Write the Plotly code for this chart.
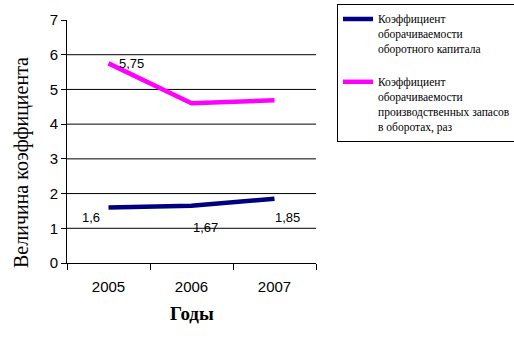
import plotly.graph_objects as go

years = ["2005", "2006", "2007"]
working_capital = [1.6, 1.65, 1.85]
inventory = [5.75, 4.6, 4.69]
wc_labels = ["1,6", "1,67", "1,85"]
inv_labels = ["5,75", "", ""]
name_wc = "Коэффициент<br>оборачиваемости<br>оборотного капитала<br> "
name_inv = "Коэффициент<br>оборачиваемости<br>производственных запасов<br>в оборотах, раз"
x_title = "Годы"
y_title = "Величина коэффициента"

xpos = list(range(len(years)))

fig = go.Figure()
fig.add_trace(go.Scatter(x=xpos, y=working_capital, mode="lines", name=name_wc,
                         line=dict(color="#000080", width=4.5)))
fig.add_trace(go.Scatter(x=xpos, y=inventory, mode="lines", name=name_inv,
                         line=dict(color="#FF00FF", width=4.5)))

lab_font = dict(family="Liberation Sans, Arial", size=13, color="black")
wc_shift = [(-18, -10), (14, -22), (13, -19)]
for x, y, t, (dx, dy) in zip(xpos, working_capital, wc_labels, wc_shift):
    fig.add_annotation(x=x, y=y, text=t, showarrow=False, xshift=dx, yshift=dy, font=lab_font)
fig.add_annotation(x=xpos[0], y=inventory[0], text=inv_labels[0], showarrow=False,
                   xanchor="left", xshift=8, yshift=0, font=lab_font)

serif = "Liberation Serif, Times New Roman, serif"
fig.add_annotation(xref="paper", yref="paper", x=-0.1847, y=0.4115, text=y_title,
                   textangle=-90, showarrow=False, xanchor="center", yanchor="middle",
                   font=dict(family=serif, size=20, color="black"))
fig.add_annotation(xref="paper", yref="paper", x=0.5, y=-0.2058, text="<b>" + x_title + "</b>",
                   showarrow=False, xanchor="center", yanchor="middle",
                   font=dict(family=serif, size=19, color="black"))

for g in range(1, 7):
    fig.add_shape(type="line", xref="paper", x0=0, x1=1, yref="y", y0=g, y1=g,
                  line=dict(color="black", width=1), layer="below")

fig.update_layout(
    width=514, height=349,
    margin=dict(l=67, r=198, t=20, b=86, autoexpand=False),
    paper_bgcolor="white", plot_bgcolor="white",
    showlegend=True,
    legend=dict(x=1.0843, y=1.0658, xanchor="left", yanchor="top",
                bordercolor="black", borderwidth=1, bgcolor="white",
                font=dict(family=serif, size=11.5, color="black"),
                valign="top", tracegroupgap=0, itemwidth=30),
    xaxis=dict(range=[-0.5, 2.5], tickvals=xpos, ticktext=years, ticks="",
               ticklabelstandoff=10,
               minor=dict(tickvals=[-0.5, 0.5, 1.5, 2.5], ticks="outside", ticklen=6,
                          tickcolor="black", showgrid=False),
               showline=True, linecolor="black", showgrid=False, zeroline=False,
               tickfont=dict(family="Liberation Sans, Arial", size=15, color="black")),
    yaxis=dict(range=[0, 7], dtick=1, ticks="outside", ticklen=5, tickcolor="black",
               showline=True, linecolor="black", showgrid=False, zeroline=False,
               tickfont=dict(family="Liberation Sans, Arial", size=15, color="black")),
)

fig.write_html("out.html")
